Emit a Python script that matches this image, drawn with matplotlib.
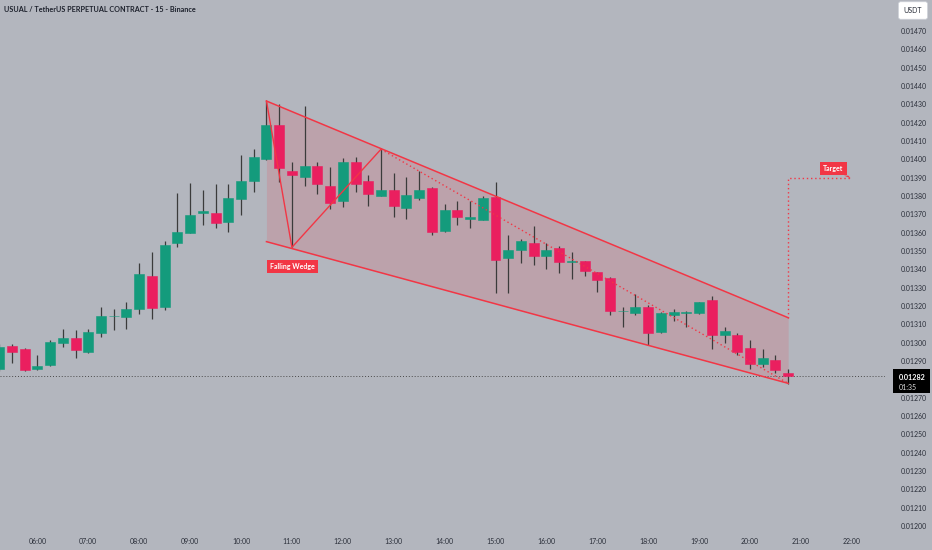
import numpy as np
import matplotlib
matplotlib.use("Agg")
import matplotlib.pyplot as plt
from matplotlib.patches import Rectangle, Polygon

# 15 minute candles, first one at 05:15 (hours as float)
hours = 5.25 + 0.25 * np.arange(63)

opens = [1285.6, 1298.1, 1296.5, 1285.4, 1287.9, 1300.0, 1302.4, 1294.9, 1305.4, 1314.4,
         1314.1, 1318.2, 1336.3, 1319.3, 1354.2, 1360.0, 1370.5, 1370.5, 1366.0, 1378.3,
         1388.3, 1400.2, 1418.6, 1393.8, 1390.4, 1396.5, 1385.3, 1377.4, 1398.5, 1388.3,
         1380.1, 1383.4, 1373.3, 1379.1, 1384.5, 1361.1, 1372.5, 1367.3, 1367.1, 1379.6,
         1346.0, 1350.4, 1354.5, 1347.4, 1351.5, 1344.2, 1344.4, 1338.4, 1335.4, 1317.2,
         1316.2, 1319.3, 1306.0, 1315.2, 1316.0, 1316.0, 1323.2, 1304.0, 1304.2, 1297.2,
         1288.3, 1290.5, 1283.3]
highs = [1299.2, 1299.2, 1297.1, 1293.2, 1301.4, 1307.6, 1306.9, 1307.6, 1319.4, 1318.3,
         1322.3, 1343.6, 1349.4, 1355.4, 1381.5, 1387.2, 1383.4, 1386.5, 1386.5, 1402.5,
         1405.5, 1431.8, 1430.2, 1398.7, 1429.1, 1398.7, 1395.6, 1400.6, 1401.4, 1391.4,
         1405.5, 1392.4, 1390.5, 1393.6, 1385.1, 1375.6, 1377.4, 1377.4, 1380.0, 1387.4,
         1358.5, 1356.5, 1363.6, 1354.5, 1352.7, 1349.6, 1344.8, 1338.8, 1335.8, 1319.6,
         1326.4, 1320.5, 1316.5, 1318.2, 1317.1, 1322.3, 1325.6, 1308.4, 1305.4, 1301.4,
         1296.4, 1293.2, 1285.4]
lows = [1284.5, 1288.9, 1284.5, 1285.1, 1287.4, 1297.4, 1291.4, 1294.5, 1303.2, 1306.7,
        1307.6, 1315.6, 1312.7, 1317.6, 1352.0, 1359.6, 1364.3, 1362.7, 1360.5, 1369.8,
        1382.3, 1399.6, 1387.5, 1352.0, 1385.6, 1380.9, 1372.9, 1373.8, 1382.3, 1374.7,
        1379.8, 1368.7, 1367.6, 1377.8, 1358.7, 1360.5, 1364.2, 1362.7, 1366.9, 1326.9,
        1326.9, 1343.6, 1342.3, 1340.3, 1337.8, 1334.5, 1336.5, 1327.8, 1314.9, 1308.7,
        1315.2, 1298.7, 1305.4, 1311.6, 1308.7, 1315.6, 1296.4, 1299.6, 1293.2, 1285.4,
        1286.5, 1283.6, 1277.3]
closes = [1297.6, 1295.0, 1285.1, 1287.4, 1300.3, 1302.4, 1296.0, 1305.6, 1314.4, 1314.6,
          1318.3, 1337.6, 1319.0, 1353.5, 1360.3, 1369.6, 1371.6, 1365.1, 1378.7, 1388.3,
          1401.4, 1418.6, 1395.4, 1391.6, 1396.5, 1386.4, 1376.2, 1398.5, 1386.4, 1381.2,
          1383.4, 1374.4, 1380.4, 1383.4, 1360.2, 1372.5, 1368.5, 1368.7, 1378.7, 1345.1,
          1350.4, 1355.4, 1347.4, 1350.5, 1344.1, 1344.4, 1339.2, 1334.3, 1317.2, 1317.4,
          1319.4, 1305.4, 1316.2, 1316.5, 1316.5, 1322.2, 1304.2, 1306.5, 1295.0, 1288.5,
          1291.4, 1285.1, 1282.0]

# prices were read in units of 1e-5
o = np.array(opens) * 1e-5
h = np.array(highs) * 1e-5
l = np.array(lows) * 1e-5
c = np.array(closes) * 1e-5

last_price = 0.01282
time_labels = ["%02d:00" % hh for hh in range(6, 23)]
# 0.01280 sits under the last price box, so it is left out
price_ticks = [round(0.01200 + 0.0001 * i, 5) for i in range(28) if i != 8]

# wedge drawing
wedge_x = [10.5, 20.75]
wedge_upper = [0.014318, 0.013136]
wedge_lower = [0.013551, 0.012778]
zigzag_x = [10.5, 11.0, 12.75]
zigzag_y = [0.014318, 0.013520, 0.014055]
dotted_x = [12.75, 20.75]
dotted_y = [0.014055, 0.012778]
target_x = [20.75, 20.75, 21.984]
target_y = [0.013136, 0.013896, 0.013896]

bg = "#b3b6be"
green = "#149b7c"
red = "#ea1f5f"
line_red = "#f23645"

fig = plt.figure(figsize=(9.32, 5.5), dpi=100, facecolor=bg)
ax = fig.add_axes([0, 0, 885 / 932, 1])
ax.set_facecolor(bg)
for s in ax.spines.values():
    s.set_visible(False)

# wedge fill + lines
ax.fill_between(wedge_x, wedge_lower, wedge_upper, color=line_red, alpha=0.15, lw=0, zorder=1)
ax.plot(wedge_x, wedge_upper, color=line_red, lw=1.1, zorder=4)
ax.plot(wedge_x, wedge_lower, color=line_red, lw=1.1, zorder=4)
ax.plot(zigzag_x, zigzag_y, color=line_red, lw=1.0, zorder=4)
ax.plot(dotted_x, dotted_y, color=line_red, lw=1.0, ls=(0, (1, 2)), zorder=4)
ax.plot(target_x, target_y, color=line_red, lw=1.0, ls=(0, (1, 2)), zorder=4)

# candles
width = 0.196
cols = np.where(c >= o, green, red)
ax.vlines(hours, l, h, color="#3b3b3b", lw=0.9, zorder=2)
bottoms = np.minimum(o, c)
heights = np.maximum(np.abs(c - o), 0.6e-6)
ax.bar(hours, heights, width=width, bottom=bottoms, color=cols, edgecolor=cols, lw=0.4, zorder=3)

# last price line
ax.axhline(last_price, color="#4a4a4a", lw=0.7, ls=(0, (1, 2)), zorder=1)

ax.set_xlim(5.2652, 22.652)
ax.set_ylim(0.011869, 0.014869)

# price axis on the right
ax.yaxis.tick_right()
ax.set_yticks(price_ticks)
ax.set_yticklabels(["%.5f" % p for p in price_ticks])
ax.tick_params(axis="y", length=0, pad=11, labelsize=5, labelcolor="#2a2e39")
for t in ax.get_yticklabels():
    t.set_family("Lato")
ax.set_xticks([])

# time labels along the bottom
for i, lab in enumerate(time_labels):
    ax.text(6 + i, 9 / 550, lab, transform=ax.get_xaxis_transform(), ha="center", va="center",
            fontsize=5, color="#2a2e39", family="Lato")

# labels
ax.text(11.008, 0.013414, "Falling Wedge", ha="center", va="center", fontsize=5, color="white",
        family="Lato", weight="bold", zorder=6,
        bbox=dict(boxstyle="square,pad=0.45", fc=line_red, ec="none"))
ax.text(21.642, 0.013949, "Target", ha="center", va="center", fontsize=5, color="white",
        family="Lato", weight="bold", zorder=6,
        bbox=dict(boxstyle="square,pad=0.45", fc=line_red, ec="none"))
ax.add_patch(Polygon([(21.847, 0.013911), (21.932, 0.013911), (21.979, 0.013896)],
                     closed=True, fc=line_red, ec="none", zorder=6))

# title
fig.text(4 / 932, 1 - 10 / 550, "USUAL / TetherUS PERPETUAL CONTRACT - 15 - Binance",
         ha="left", va="center", fontsize=5.2, color="#1e222d", family="Lato", weight="bold")

# currency box
fig.text(913 / 932, 1 - 10.5 / 550, "USDT", ha="center", va="center", fontsize=5, color="#2a2e39",
         family="Lato", bbox=dict(boxstyle="round,pad=0.75,rounding_size=0.3", fc="white", ec="#d0d3da", lw=0.5))

# last price box
fig.patches.append(Rectangle((893 / 932, 1 - 393 / 550), 37 / 932, 24 / 550,
                             transform=fig.transFigure, fc="black", ec="none", zorder=5))
fig.text(899 / 932, 1 - 377 / 550, "0.01282", ha="left", va="center", fontsize=5.2, color="white",
         family="Lato", weight="bold", zorder=6)
fig.text(899 / 932, 1 - 387 / 550, "01:35", ha="left", va="center", fontsize=5, color="#dddddd",
         family="Lato", zorder=6)

fig.savefig("out.png", dpi=100, facecolor=bg)
